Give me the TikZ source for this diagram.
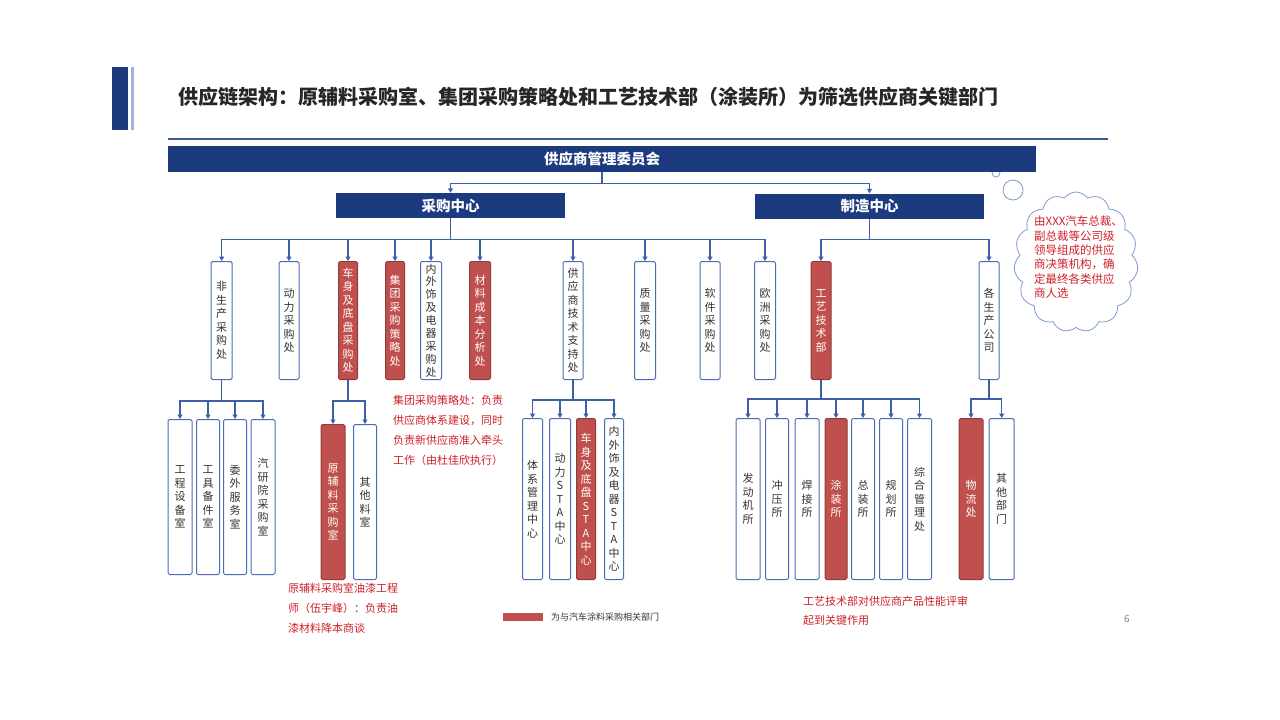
\documentclass[tikz,border=0pt]{standalone}
\usepackage{fontspec}
\setmainfont{Noto Sans CJK SC}
\usetikzlibrary{shapes.symbols,arrows.meta}
\definecolor{navy}{HTML}{1C3B7E}
\definecolor{lightbar}{HTML}{9DB3DD}
\definecolor{boxred}{HTML}{C0504D}
\definecolor{boxblue}{HTML}{4A6DB5}
\definecolor{lineblue}{HTML}{3D5FA8}
\definecolor{notered}{HTML}{D0202A}
\definecolor{txtgray}{HTML}{333333}
\definecolor{titlegray}{HTML}{262626}
\definecolor{cloudblue}{HTML}{7F9BD0}
\definecolor{rulecolor}{HTML}{3C5A9A}
\begin{document}
\begin{tikzpicture}[x=1pt,y=-1pt,
 conn/.style={draw=lineblue,line width=1.1pt,-{Triangle[length=4.5pt,width=5pt]}},
 wbox/.style={draw=boxblue,line width=1pt,fill=white,rounded corners=1.5pt,inner sep=0pt,anchor=north,text=txtgray,align=center,font=\fontsize{11}{13.5}\selectfont},
 rbox/.style={wbox,fill=boxred,draw=boxred!75!black,text=white},
 bar/.style={fill=navy,inner sep=0pt,text=white,font=\bfseries\fontsize{14.5}{14.5}\selectfont},
 note/.style={text=notered,align=left,anchor=north west,inner sep=0pt,font=\fontsize{11}{20}\selectfont},
 up/.style={minimum height=118pt},
 low/.style={minimum height=155pt},
 lowb/.style={minimum height=161pt}]
\useasboundingbox (0,0) rectangle (1280,720);
\fill[white] (0,0) rectangle (1280,720);

% title decoration
\fill[navy] (112,67) rectangle (128,130);
\fill[lightbar] (131,67) rectangle (133.5,130);
\node[anchor=west,inner sep=0pt,font=\bfseries\fontsize{20}{20}\selectfont,text=titlegray] (title) at (178,97)
 {供应链架构：原辅料采购室、集团采购策略处和工艺技术部（涂装所）为筛选供应商关键部门};
\draw[line width=1.5pt,rulecolor] (168,139) -- (1108,139);

% thought bubbles and cloud
\node[circle,draw=cloudblue,line width=0.8pt,fill=white,minimum size=8pt,inner sep=0pt] (bub2) at (996,173) {};
\node[circle,draw=cloudblue,line width=0.8pt,fill=white,minimum size=20pt,inner sep=0pt] (bub1) at (1013,190) {};
\node[cloud,cloud puffs=15,cloud puff arc=110,cloud ignores aspect,draw=cloudblue,line width=0.8pt,fill=white,minimum width=124pt,minimum height=140pt,inner sep=0pt] (cloud) at (1076,262) {};
\node[text=notered,align=left,anchor=north west,inner sep=0pt,font=\fontsize{11.5}{14.3}\selectfont] (cloudtxt) at (1034,216)
 {由XXX汽车总裁、\\副总裁等公司级\\领导组成的供应\\商决策机构，确\\定最终各类供应\\商人选};

% top bars
\node[bar,minimum width=868pt,minimum height=26pt] (comm) at (602,159) {供应商管理委员会};
\node[bar,minimum width=229pt,minimum height=25pt] (cg) at (450.5,205.5) {采购中心};
\node[bar,minimum width=229pt,minimum height=25pt] (mf) at (869.5,206) {制造中心};
\draw[conn] (comm.south) -- ++(0,11) -| (cg.north);
\draw[conn] (comm.south) -- ++(0,11) -| (mf.north);

% purchasing row
\node[wbox,up,minimum width=21pt] (b1) at (221.7,261) {非\\生\\产\\采\\购\\处};
\node[wbox,up,minimum width=20pt] (b2) at (289,261) {动\\力\\采\\购\\处};
\node[rbox,up,minimum width=19pt] (b3) at (348,261) {车\\身\\及\\底\\盘\\采\\购\\处};
\node[rbox,up,minimum width=19pt] (b4) at (395,261) {集\\团\\采\\购\\策\\略\\处};
\node[wbox,up,minimum width=21pt,font=\fontsize{11}{12.9}\selectfont] (b5) at (431,261) {内\\外\\饰\\及\\电\\器\\采\\购\\处};
\node[rbox,up,minimum width=21pt] (b6) at (480,261) {材\\料\\成\\本\\分\\析\\处};
\node[wbox,up,minimum width=20pt] (b7) at (573,261) {供\\应\\商\\技\\术\\支\\持\\处};
\node[wbox,up,minimum width=21pt] (b8) at (645,261) {质\\量\\采\\购\\处};
\node[wbox,up,minimum width=20pt] (b9) at (710,261) {软\\件\\采\\购\\处};
\node[wbox,up,minimum width=21pt] (b10) at (765,261) {欧\\洲\\采\\购\\处};
\foreach \n in {b1,b2,b3,b4,b5,b6,b7,b8,b9,b10}
  \draw[conn] (cg.south) -- ++(0,21) -| (\n.north);

% manufacturing row
\node[rbox,up,minimum width=20pt] (m1) at (821,261) {工\\艺\\技\\术\\部};
\node[wbox,up,minimum width=20pt] (m2) at (989,261) {各\\生\\产\\公\\司};
\foreach \n in {m1,m2}
  \draw[conn] (mf.south) -- ++(0,21) -| (\n.north);

% under b1
\node[wbox,low,minimum width=24pt] (c1) at (180,419) {工\\程\\设\\备\\室};
\node[wbox,low,minimum width=23pt] (c2) at (208,419) {工\\具\\备\\件\\室};
\node[wbox,low,minimum width=23pt] (c3) at (235,419) {委\\外\\服\\务\\室};
\node[wbox,low,minimum width=24pt] (c4) at (263,419) {汽\\研\\院\\采\\购\\室};
\foreach \n in {c1,c2,c3,c4}
  \draw[conn] (b1.south) -- ++(0,21) -| (\n.north);

% under b3
\node[rbox,low,minimum width=24pt] (d1) at (333,424) {原\\辅\\料\\采\\购\\室};
\node[wbox,low,minimum width=23pt] (d2) at (365,424) {其\\他\\料\\室};
\foreach \n in {d1,d2}
  \draw[conn] (b3.south) -- ++(0,21) -| (\n.north);

% under b7
\node[wbox,lowb,minimum width=20pt] (e1) at (532.5,418) {体\\系\\管\\理\\中\\心};
\node[wbox,lowb,minimum width=21pt] (e2) at (560,418) {动\\力\\S\\T\\A\\中\\心};
\node[rbox,lowb,minimum width=19pt] (e3) at (586,418) {车\\身\\及\\底\\盘\\S\\T\\A\\中\\心};
\node[wbox,lowb,minimum width=19pt] (e4) at (614,418) {内\\外\\饰\\及\\电\\器\\S\\T\\A\\中\\心};
\foreach \n in {e1,e2,e3,e4}
  \draw[conn] (b7.south) -- ++(0,20) -| (\n.north);

% under m1
\node[wbox,lowb,minimum width=24pt] (f1) at (748,418) {发\\动\\机\\所};
\node[wbox,lowb,minimum width=23pt] (f2) at (777,418) {冲\\压\\所};
\node[wbox,lowb,minimum width=24pt] (f3) at (807,418) {焊\\接\\所};
\node[rbox,lowb,minimum width=22pt] (f4) at (836,418) {涂\\装\\所};
\node[wbox,lowb,minimum width=23pt] (f5) at (863,418) {总\\装\\所};
\node[wbox,lowb,minimum width=23pt] (f6) at (891,418) {规\\划\\所};
\node[wbox,lowb,minimum width=24pt] (f7) at (919.5,418) {综\\合\\管\\理\\处};
\foreach \n in {f1,f2,f3,f4,f5,f6,f7}
  \draw[conn] (m1.south) -- ++(0,19) -| (\n.north);

% under m2
\node[rbox,lowb,minimum width=24pt] (g1) at (971,418) {物\\流\\处};
\node[wbox,lowb,minimum width=25pt] (g2) at (1001.7,418) {其\\他\\部\\门};
\foreach \n in {g1,g2}
  \draw[conn] (m2.south) -- ++(0,19) -| (\n.north);

% notes
\node[note] (n1) at (393,395) {集团采购策略处：负责\\供应商体系建设，同时\\负责新供应商准入牵头\\工作（由杜佳欣执行）};
\node[note] (n2) at (288,583) {原辅料采购室油漆工程\\师（伍宇峰）：负责油\\漆材料降本商谈};
\node[note,font=\fontsize{11}{18.5}\selectfont] (n3) at (803,596) {工艺技术部对供应商产品性能评审\\起到关键作用};

% legend
\node[fill=boxred,minimum width=40pt,minimum height=8pt,inner sep=0pt] (legbox) at (523,617) {};
\node[anchor=west,inner sep=0pt,font=\fontsize{9}{9}\selectfont,text=txtgray] (legtxt) at (551,617) {为与汽车涂料采购相关部门};
\node[inner sep=0pt,text=gray,font=\fontsize{10}{10}\selectfont] (pg) at (1127,619) {6};
\end{tikzpicture}
\end{document}
